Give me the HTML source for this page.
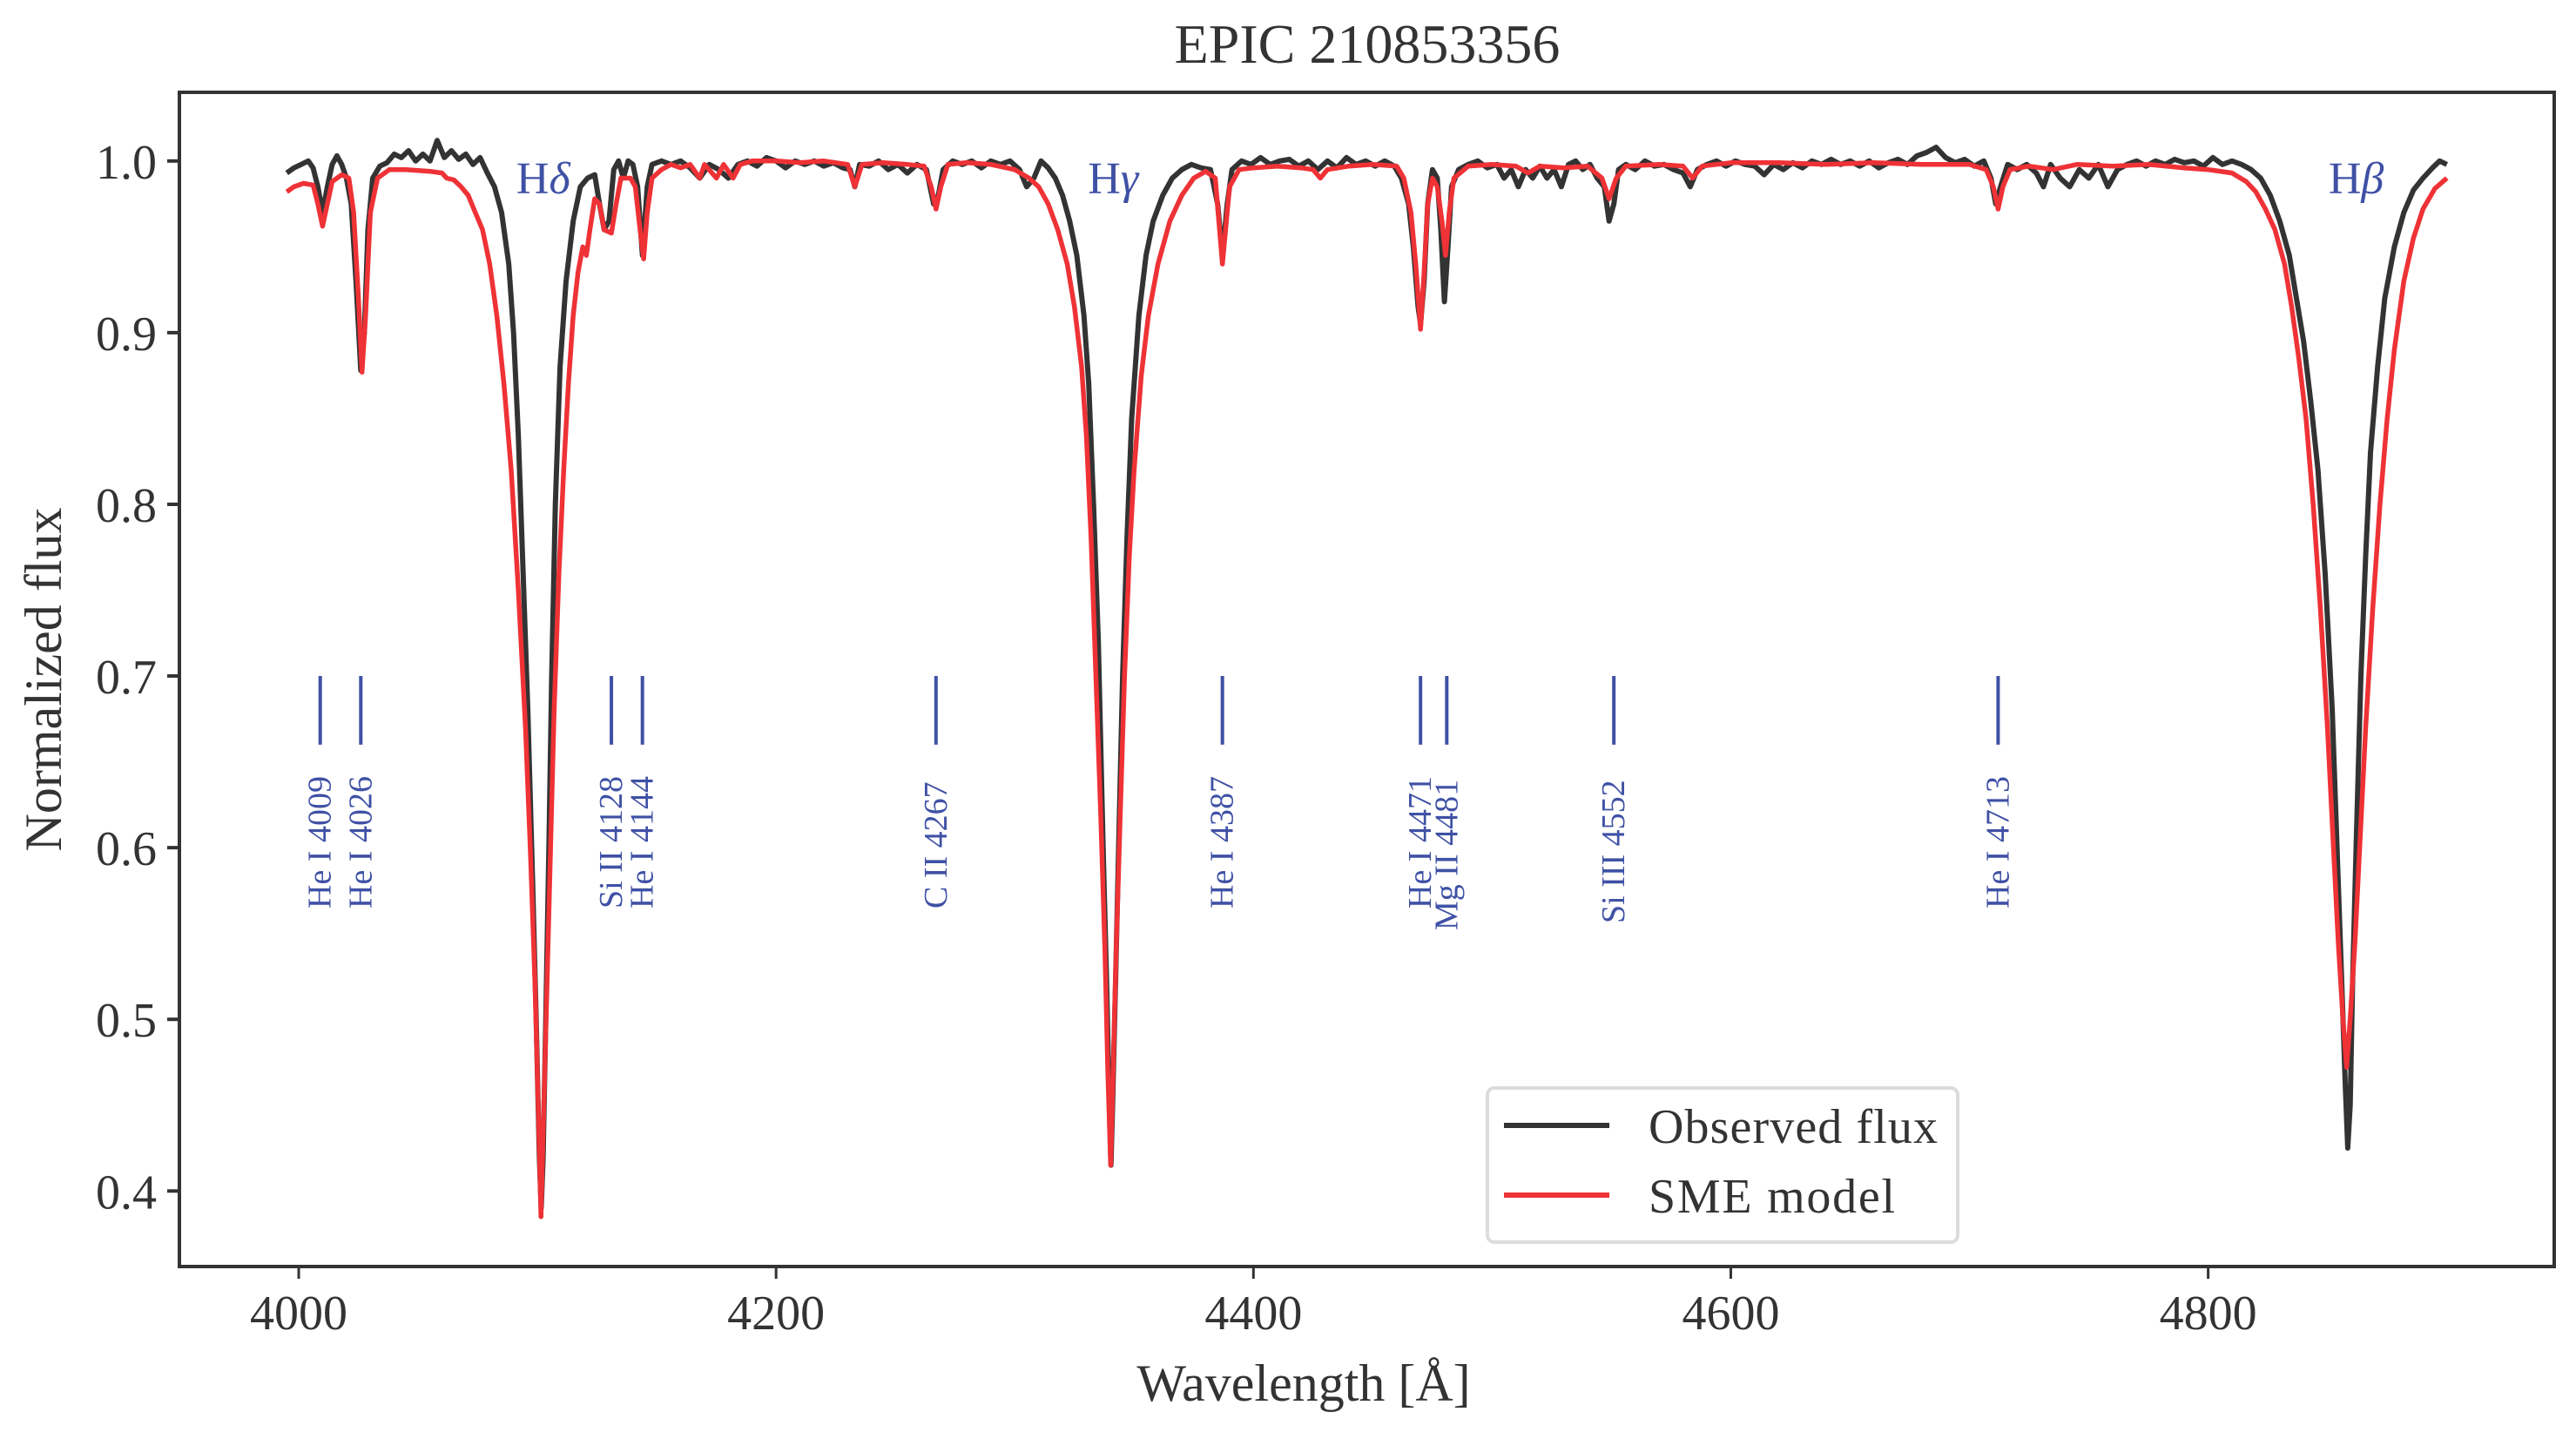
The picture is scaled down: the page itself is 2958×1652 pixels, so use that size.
<!DOCTYPE html>
<html><head><meta charset="utf-8"><style>
html,body{margin:0;padding:0;background:#fff;}
svg{display:block;font-family:"Liberation Serif",serif;}
</style></head><body>
<svg id="chart" width="2958" height="1652" viewBox="0 0 2958 1652" xmlns="http://www.w3.org/2000/svg">
<rect x="0" y="0" width="2958" height="1652" fill="#fff"/>
<text x="1570" y="72" font-size="64" text-anchor="middle" fill="#333">EPIC 210853356</text>
<g id="plot"></g>
<text x="1497" y="1608" font-size="60" text-anchor="middle" fill="#333">Wavelength  [Å]</text>
<text transform="translate(70,780) rotate(-90)" font-size="60" text-anchor="middle" fill="#333">Normalized flux</text>
</svg>
<script>
const obsWave=[3995,3998,4001,4004,4006,4008,4010,4012,4014,4016,4018,4020,4022,4024,4026,4027.5,4029,4031,4034,4037,4040,4043,4046,4049,4052,4055,4058,4061,4064,4067,4070,4073,4076,4079,4082,4085,4088,4090,4092,4094,4096,4098,4099.5,4100.8,4101.6,4102.4,4103.5,4104.8,4106,4107.5,4109.5,4112,4115,4118,4121,4124,4126,4128,4130,4132,4134,4136,4138,4140,4142,4144,4146,4148,4152,4156,4160,4164,4168,4172,4176,4180,4184,4188,4192,4196,4200,4204,4208,4212,4216,4220,4224,4228,4231,4233,4235,4239,4243,4247,4251,4255,4259,4263,4266,4268,4270,4274,4278,4282,4286,4290,4294,4298,4302,4305,4308,4311,4314,4317,4320,4323,4326,4329,4331,4333,4335,4337,4338.5,4339.6,4340.3,4341,4342.2,4343.5,4345.2,4347,4349,4352,4355,4358,4362,4366,4370,4374,4378,4382,4385,4387,4389,4391,4395,4399,4403,4407,4411,4415,4419,4423,4427,4431,4435,4439,4443,4447,4451,4455,4459,4462,4465,4467,4469,4470,4471.5,4473,4475,4477,4478.5,4480,4481.5,4483,4486,4490,4494,4498,4502,4505,4508,4511,4514,4517,4520,4523,4526,4529,4532,4535,4538,4541,4544,4547,4549,4551,4553,4556,4560,4564,4568,4572,4576,4580,4583,4586,4590,4594,4598,4602,4606,4610,4614,4618,4622,4626,4630,4634,4638,4642,4646,4650,4654,4658,4662,4666,4670,4674,4678,4682,4686,4690,4694,4698,4702,4706,4709,4711,4713,4716,4720,4724,4728,4731,4734,4738,4742,4746,4750,4754,4758,4762,4766,4770,4774,4778,4782,4786,4790,4794,4798,4802,4806,4810,4814,4818,4822,4826,4830,4834,4837,4840,4843,4846,4849,4852,4854,4856,4857.5,4858.5,4859.5,4860.5,4862,4864,4866,4868,4871,4874,4878,4882,4886,4890,4894,4897,4900];
const obsFlux=[.993,.996,.998,1.0,.996,.985,.970,.985,.998,1.003,.998,.99,.975,.93,.878,.90,.96,.99,.997,.999,1.004,1.002,1.006,1.0,1.004,1.0,1.012,1.002,1.006,1.001,1.004,.998,1.002,.993,.985,.97,.94,.9,.84,.76,.68,.58,.5,.42,.39,.42,.5,.6,.7,.8,.88,.93,.965,.985,.99,.992,.975,.96,.965,.995,1.0,.99,1.0,.998,.985,.945,.985,.998,1.0,.998,1.0,.996,.99,.998,.995,.99,.998,1.0,.997,1.002,1.0,.996,1.0,.998,1.0,.997,.999,.996,.995,.985,.998,.997,1.0,.995,.998,.993,.998,.995,.975,.98,.995,1.0,.998,1.0,.996,1.0,.998,1.0,.995,.985,.99,1.0,.996,.99,.98,.965,.945,.91,.87,.8,.72,.6,.52,.45,.415,.45,.52,.6,.7,.78,.85,.91,.945,.965,.98,.99,.995,.998,.996,.995,.975,.945,.975,.995,1.0,.998,1.002,.998,1.0,1.001,.997,1.0,.995,1.0,.996,1.002,.998,1.0,.997,1.0,.997,.99,.975,.95,.915,.905,.93,.975,.995,.99,.96,.918,.95,.985,.995,.998,1.0,.996,.998,.99,.995,.985,.995,.99,.997,.99,.995,.985,.998,1.0,.995,.998,.99,.985,.965,.975,.995,.998,.995,1.0,.997,.998,.995,.993,.985,.995,.998,1.0,.997,1.0,.998,.997,.992,.998,.995,.999,.996,1.0,.998,1.001,.998,1.0,.997,1.0,.996,.999,1.001,.998,1.003,1.005,1.008,1.002,.999,1.001,.997,1.0,.99,.975,.985,.998,.995,.998,.993,.985,.998,.99,.985,.995,.99,.998,.985,.995,.998,1.0,.997,1.0,.998,1.001,.999,1.0,.997,1.002,.998,1.0,.998,.995,.99,.98,.965,.945,.92,.895,.86,.82,.76,.68,.6,.52,.46,.425,.45,.52,.6,.7,.77,.83,.88,.92,.95,.97,.983,.99,.996,1.0,.998];
const modelWave=[3995,3998,4002,4006,4008,4010,4012,4014,4018,4021,4023,4025,4026.5,4028,4030,4033,4038,4045,4055,4060,4062,4065,4068,4071,4074,4077,4080,4083,4086,4089,4092,4095,4097,4099,4100.5,4101.5,4102.5,4104,4105.5,4107,4109,4111,4113,4115,4117,4119,4120.5,4122,4124,4126,4128,4131,4133,4135,4139,4141,4143,4144.5,4146,4148,4152,4156,4160,4164,4168,4170,4175,4178,4182,4185,4190,4200,4210,4220,4230,4233,4236,4245,4255,4262,4265,4267,4269,4272,4280,4290,4300,4306,4310,4314,4318,4322,4325,4328,4330,4332,4334,4336,4337.8,4339,4340.2,4341.2,4342.5,4344.2,4346,4348,4350,4353,4356,4360,4365,4370,4375,4380,4384,4387,4390,4394,4400,4410,4420,4425,4428,4431,4440,4450,4460,4463,4466,4468,4470,4471.5,4473,4475,4477,4479,4480.5,4482,4484,4490,4500,4510,4515,4520,4530,4540,4546,4549,4552,4556,4570,4580,4584,4588,4600,4620,4640,4660,4680,4700,4707,4710,4712,4714,4717,4725,4735,4745,4760,4775,4790,4800,4810,4816,4820,4824,4828,4832,4835,4838,4841,4844,4847,4850,4852.5,4854.5,4856.5,4858,4859.5,4861.5,4863.5,4866,4869,4872,4875,4878,4882,4886,4890,4895,4900];
const modelFlux=[.982,.985,.987,.986,.975,.962,.975,.988,.992,.99,.97,.92,.877,.91,.97,.99,.995,.995,.994,.993,.99,.989,.985,.98,.97,.96,.94,.91,.87,.82,.75,.67,.6,.52,.44,.385,.44,.52,.6,.68,.76,.82,.87,.91,.935,.95,.945,.96,.978,.975,.96,.958,.975,.99,.99,.985,.96,.943,.97,.99,.995,.998,.996,.998,.99,.998,.99,.998,.99,.998,1.0,1.0,.999,1.0,.998,.985,.998,.999,.998,.997,.985,.972,.985,.998,.999,.998,.995,.99,.985,.975,.96,.94,.915,.88,.84,.78,.7,.62,.54,.47,.415,.47,.54,.62,.7,.77,.82,.875,.91,.94,.965,.98,.99,.994,.99,.94,.985,.995,.996,.997,.996,.995,.99,.995,.997,.998,.997,.99,.97,.94,.902,.935,.975,.99,.985,.965,.945,.97,.99,.997,.998,.997,.993,.997,.996,.997,.99,.978,.99,.997,.998,.997,.99,.997,.999,.999,.998,.999,.998,.998,.995,.985,.972,.985,.995,.997,.995,.998,.997,.998,.996,.995,.993,.988,.982,.972,.96,.94,.915,.885,.85,.8,.74,.67,.6,.545,.50,.472,.50,.545,.6,.67,.74,.8,.85,.89,.93,.955,.972,.984,.99];
const yTicks=[0.4,0.5,0.6,0.7,0.8,0.9,1.0];
const yTickLabels=["0.4","0.5","0.6","0.7","0.8","0.9","1.0"];
const xTicks=[4000,4200,4400,4600,4800];
const xTickLabels=["4000","4200","4400","4600","4800"];
const lineWaves=[4009,4026,4131,4144,4267,4387,4470,4481,4551,4712];
const lineLabels=["He I 4009","He I 4026","Si II 4128","He I 4144","C II 4267","He I 4387","He I 4471","Mg II 4481","Si III 4552","He I 4713"];
const hWaves=[4101.7,4340.5,4861.3];
const hLabels=["δ","γ","β"];

const L=206,R=2933,T=106,B=1454;
const X0=3950,X1=4945,Y0=0.356,Y1=1.040;
const sx=v=>L+(v-X0)/(X1-X0)*(R-L);
const sy=v=>B-(v-Y0)/(Y1-Y0)*(B-T);
const NS="http://www.w3.org/2000/svg";
const g=document.getElementById('plot');
function mk(tag,attrs,parent){const e=document.createElementNS(NS,tag);for(const k in attrs)e.setAttribute(k,attrs[k]);(parent||g).appendChild(e);return e;}

function pathFrom(w,f){let d='';for(let i=0;i<w.length;i++)d+=(i?'L':'M')+sx(w[i]).toFixed(1)+','+sy(f[i]).toFixed(1);return d;}
const obs=mk('path',{d:pathFrom(obsWave,obsFlux),fill:'none',stroke:'#333','stroke-width':6,'stroke-linejoin':'round'});


const mod=mk('path',{d:pathFrom(modelWave,modelFlux),fill:'none',stroke:'#ee3236','stroke-width':5.5,'stroke-linejoin':'round'});



for(let i=0;i<lineWaves.length;i++){
  const x=sx(lineWaves[i]);
  const m=mk('line',{x1:x,x2:x,y1:sy(0.70),y2:sy(0.66),stroke:'#3f51a5','stroke-width':4});
  
  
  const low=(lineLabels[i].indexOf('Mg')===0||lineLabels[i].indexOf('Si III')===0);
  const yb=low?(lineLabels[i].indexOf('Mg')===0?1068:1060):1043;
  const t=mk('text',{transform:'translate('+(x+12)+','+yb+') rotate(-90)','font-size':38,fill:'#3f51a5'});
  t.textContent=lineLabels[i];
  
  
}
for(let i=0;i<hWaves.length;i++){
  const t=mk('text',{x:sx(hWaves[i])+2,y:222,'font-size':52,fill:'#3f51a5','text-anchor':'middle'});
  t.textContent='H';
  const s=document.createElementNS(NS,'tspan');s.setAttribute('font-style','italic');s.textContent=hLabels[i];t.appendChild(s);
  
  
}
const fr=mk('rect',{x:L,y:T,width:R-L,height:B-T,fill:'none',stroke:'#333','stroke-width':4});


for(let i=0;i<yTicks.length;i++){
  const y=sy(yTicks[i]);
  const tk=mk('line',{x1:L-14,x2:L,y1:y,y2:y,stroke:'#333','stroke-width':4});
  
  
  const t=mk('text',{x:L-26,y:y+20,'font-size':56,'text-anchor':'end',fill:'#333'});
  t.textContent=yTickLabels[i];
  
  
}
for(let i=0;i<xTicks.length;i++){
  const x=sx(xTicks[i]);
  const tk=mk('line',{x1:x,x2:x,y1:B,y2:B+14,stroke:'#333','stroke-width':3});
  
  
  const t=mk('text',{x:x,y:B+72,'font-size':56,'text-anchor':'middle',fill:'#333'});
  t.textContent=xTickLabels[i];
  
  
}
const lg=mk('g',{});


mk('rect',{x:1708,y:1249,width:540,height:177,rx:8,fill:'#fff',stroke:'#dcdcdc','stroke-width':4},lg);
const l1=mk('line',{x1:1727,x2:1848,y1:1292,y2:1292,stroke:'#333','stroke-width':6},lg);


const t1=mk('text',{x:1893,y:1312,'font-size':56,fill:'#333',textLength:332},lg);t1.textContent='Observed flux';
const l2=mk('line',{x1:1727,x2:1848,y1:1372,y2:1372,stroke:'#ee3236','stroke-width':6},lg);


const t2=mk('text',{x:1893,y:1392,'font-size':56,fill:'#333',textLength:283},lg);t2.textContent='SME model';
</script>
</body></html>
